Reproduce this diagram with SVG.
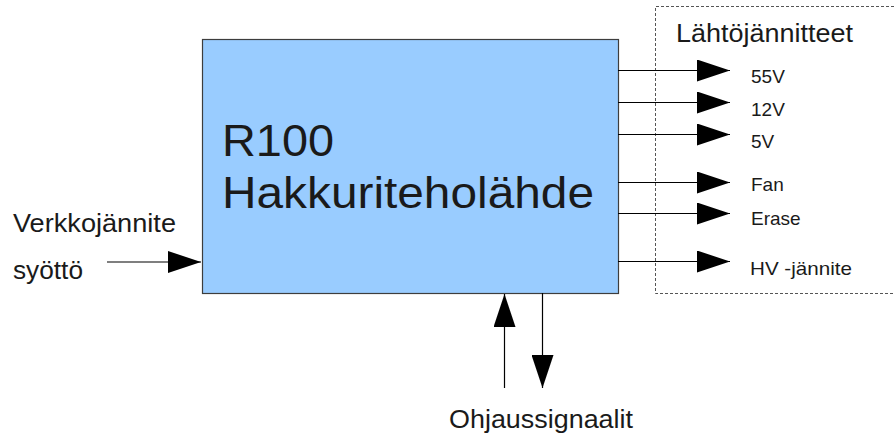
<svg xmlns="http://www.w3.org/2000/svg" width="894" height="436" viewBox="0 0 894 436">
  <style>
    text { font-family: "Liberation Sans", Arial, sans-serif; fill: #1a1a1a; }
    .big { font-size: 44px; }
    .mid { font-size: 25px; }
    .small { font-size: 19px; }
    .wire { stroke: #000; stroke-width: 1.2; fill: none; }
  </style>
  <defs>
    <marker id="head" markerUnits="userSpaceOnUse" markerWidth="33" markerHeight="22" refX="33" refY="11" orient="auto">
      <path d="M0,0 L33,11 L0,22 Z" fill="#000"/>
    </marker>
  </defs>

  <!-- output group frame -->
  <g id="outputs-frame">
    <path d="M894,6.5 H655.5 V293.5 H894" fill="none" stroke="#555" stroke-width="1" stroke-dasharray="3,2"/>
    <text class="mid" x="676" y="42" textLength="177" lengthAdjust="spacingAndGlyphs">Lähtöjännitteet</text>
  </g>

  <!-- power supply block -->
  <g id="psu">
    <rect x="202.5" y="39.5" width="416" height="254" fill="#99ccff" stroke="#3d3d3d" stroke-width="1.2"/>
    <text class="big" x="222" y="156" textLength="112" lengthAdjust="spacingAndGlyphs">R100</text>
    <text class="big" x="222" y="208" textLength="372" lengthAdjust="spacingAndGlyphs">Hakkuriteholähde</text>
  </g>

  <!-- connectors -->
  <g id="connectors">
    <line class="wire" x1="107" y1="262" x2="201" y2="262" marker-end="url(#head)"/>
    <line class="wire" x1="618" y1="70.5" x2="730" y2="70.5" marker-end="url(#head)"/>
    <line class="wire" x1="618" y1="102.5" x2="730" y2="102.5" marker-end="url(#head)"/>
    <line class="wire" x1="618" y1="134.5" x2="730" y2="134.5" marker-end="url(#head)"/>
    <line class="wire" x1="618" y1="182.5" x2="730" y2="182.5" marker-end="url(#head)"/>
    <line class="wire" x1="618" y1="213.5" x2="730" y2="213.5" marker-end="url(#head)"/>
    <line class="wire" x1="618" y1="261.5" x2="730" y2="261.5" marker-end="url(#head)"/>
    <line class="wire" x1="504.5" y1="388" x2="504.5" y2="294" marker-end="url(#head)"/>
    <line class="wire" x1="542.5" y1="293" x2="542.5" y2="388" marker-end="url(#head)"/>
  </g>

  <!-- input labels -->
  <g id="input-label">
    <text class="mid" x="13" y="232" textLength="163" lengthAdjust="spacingAndGlyphs">Verkkojännite</text>
    <text class="mid" x="13" y="279" textLength="70" lengthAdjust="spacingAndGlyphs">syöttö</text>
  </g>

  <!-- output labels -->
  <g id="output-labels">
    <text class="small" x="751" y="83">55V</text>
    <text class="small" x="751" y="116">12V</text>
    <text class="small" x="751" y="148">5V</text>
    <text class="small" x="751" y="191">Fan</text>
    <text class="small" x="751" y="225">Erase</text>
    <text class="small" x="750" y="275" textLength="102" lengthAdjust="spacingAndGlyphs">HV -jännite</text>
  </g>

  <!-- control signals label -->
  <g id="control-label">
    <text class="mid" x="449" y="428" textLength="184" lengthAdjust="spacingAndGlyphs">Ohjaussignaalit</text>
  </g>
</svg>
